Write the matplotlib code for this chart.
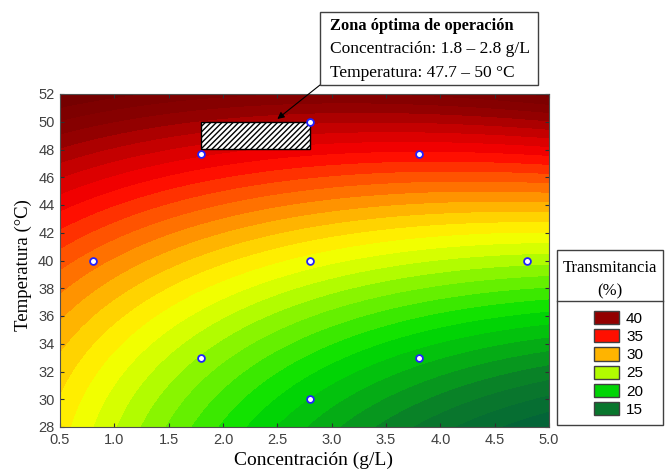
import numpy as np
import matplotlib
matplotlib.use("Agg")
from matplotlib import pyplot as plt
from matplotlib.colors import LinearSegmentedColormap, Normalize
from matplotlib.patches import Patch, Rectangle
from matplotlib.lines import Line2D

# experimental design points (Concentracion, Temperatura)
design_x = [0.8, 1.8, 2.8, 3.8, 1.8, 2.8, 3.8, 2.8, 4.8]
design_y = [40.0, 47.7, 50.0, 47.7, 33.0, 30.0, 33.0, 40.0, 40.0]

# transmitance (x, y, %)
read_x = [0.6, 0.6, 0.6, 0.6, 0.6, 0.6,
          1.8, 1.8, 1.8, 1.8, 1.8,
          2.8, 2.8, 2.8, 2.8, 2.8, 2.8, 2.8, 2.8, 2.8,
          3.8, 3.8, 3.8, 3.8, 3.8,
          4.8, 4.8, 4.8, 4.8, 4.8, 4.8, 4.8, 4.8]
read_y = [28, 32, 37, 42, 49, 52,
          28, 33, 40, 47.7, 52,
          28, 30, 35.5, 40, 41.5, 44, 46.8, 50, 52,
          28, 33, 40, 47.7, 52,
          28, 32, 37, 40, 42, 44.5, 47, 51]
read_t = [26.5, 27.5, 30, 35, 40, 41.5,
          23, 24.5, 29, 37.5, 41,
          17, 18.5, 20.5, 26.5, 27, 30, 35, 39, 40.5,
          15.5, 19, 25, 36, 40.5,
          13, 16, 20, 24, 27, 30, 35, 40]

legend_levels = [40, 35, 30, 25, 20, 15]

# optimum zone
zone_x = [1.8, 2.8]
zone_y = [48.0, 50.0]

# colour scale anchors
anchor_vals = [11, 15, 20, 25, 27, 30, 35, 40, 44]
anchor_cols = ["#005a40", "#0a7a2a", "#00e000", "#c8ff00", "#ffff00",
               "#ffa500", "#ff0000", "#8a0000", "#6a0000"]

# quadratic response surface fitted to the readings
rx = np.array(read_x, dtype=float)
ry = np.array(read_y, dtype=float)
A = np.column_stack([np.ones_like(rx), rx, ry, rx**2, ry**2, rx*ry])
coef, *_ = np.linalg.lstsq(A, np.array(read_t), rcond=None)

gx, gy = np.meshgrid(np.linspace(0.5, 5.0, 300), np.linspace(28, 52, 300))
gz = (coef[0] + coef[1]*gx + coef[2]*gy + coef[3]*gx**2
      + coef[4]*gy**2 + coef[5]*gx*gy)

vmin, vmax = anchor_vals[0], anchor_vals[-1]
cmap = LinearSegmentedColormap.from_list(
    "trans", [((v - vmin) / (vmax - vmin), c) for v, c in zip(anchor_vals, anchor_cols)])
norm = Normalize(vmin, vmax)

fig = plt.figure(figsize=(6.65, 4.75), dpi=100)
ax = fig.add_axes([60/665, 1-427/475, 489/665, 333/475])

levels = np.arange(5, 50, 1.0)
ax.contourf(gx, gy, gz, levels=levels, cmap=cmap, norm=norm, extend="both")

ax.add_patch(Rectangle((zone_x[0], zone_y[0]), zone_x[1]-zone_x[0], zone_y[1]-zone_y[0],
                       facecolor="white", edgecolor="black", hatch="//////", lw=1, zorder=3))
ax.scatter(design_x, design_y, s=24, facecolor="white", edgecolor="#2020ff",
           linewidth=1.3, zorder=4)

ax.set_xlim(0.5, 5.0)
ax.set_ylim(28, 52)
ax.set_xticks(np.arange(0.5, 5.01, 0.5))
ax.set_yticks(np.arange(28, 53, 2))
ax.xaxis.set_major_formatter(matplotlib.ticker.FormatStrFormatter("%.1f"))
ax.tick_params(direction="in", top=True, right=True, length=3, labelsize=10.5,
               labelcolor="#404040", color="#303030", pad=4)
for lab in ax.get_xticklabels() + ax.get_yticklabels():
    lab.set_family("Liberation Sans")
for s in ax.spines.values():
    s.set_color("#505050")
ax.set_xlabel("Concentración (g/L)", family="Liberation Serif", fontsize=14)
ax.set_ylabel("Temperatura (°C)", family="Liberation Serif", fontsize=13.5)
ax.xaxis.set_label_coords((314 - 60) / 489, -25 / 333)
ax.yaxis.set_label_coords(-28 / 489, (427 - 265) / 333)

# annotation box
fig.patches.append(Rectangle((320/665, 1-85/475), 218/665, 73/475, transform=fig.transFigure,
                             facecolor="white", edgecolor="#404040", lw=1))
fig.text(330/665, 1-30/475, "Zona óptima de operación", family="Liberation Serif",
         fontsize=11.8, weight="bold")
fig.text(330/665, 1-53/475, "Concentración: 1.8 – 2.8 g/L", family="Liberation Serif", fontsize=12.5)
fig.text(330/665, 1-77/475, "Temperatura: 47.7 – 50 °C", family="Liberation Serif", fontsize=12.5)
ax.annotate("", xy=(2.5, 50.2), xytext=(320/665, 1-85/475), textcoords="figure fraction",
            arrowprops=dict(arrowstyle="-|>", color="black", lw=0.8, mutation_scale=10,
                            shrinkA=0, shrinkB=0))

# legend: frame, title and separator drawn by hand, entries by legend()
fig.patches.append(Rectangle((557/665, 1-425/475), 106/665, 175/475, transform=fig.transFigure,
                             facecolor="white", edgecolor="#404040", lw=1))
fig.text(610/665, 1-268/475, "Transmitancia", family="Liberation Serif", fontsize=12,
         ha="center", va="center")
fig.text(610/665, 1-291/475, "(%)", family="Liberation Serif", fontsize=12,
         ha="center", va="center")
fig.add_artist(Line2D([557/665, 663/665], [1-301/475, 1-301/475], color="#404040", lw=1))

handles = [Patch(facecolor=cmap(norm(v - 0.5)), edgecolor="#404040", label=str(v))
           for v in legend_levels]
leg = fig.legend(handles=handles, loc="upper left", bbox_to_anchor=(594/665, 1-311/475),
                 frameon=False, borderaxespad=0, borderpad=0, handlelength=1.65,
                 handleheight=0.95, handletextpad=0.45, labelspacing=0.22,
                 prop={"family": "Liberation Sans", "size": 11})

fig.savefig("out.png", dpi=100)
